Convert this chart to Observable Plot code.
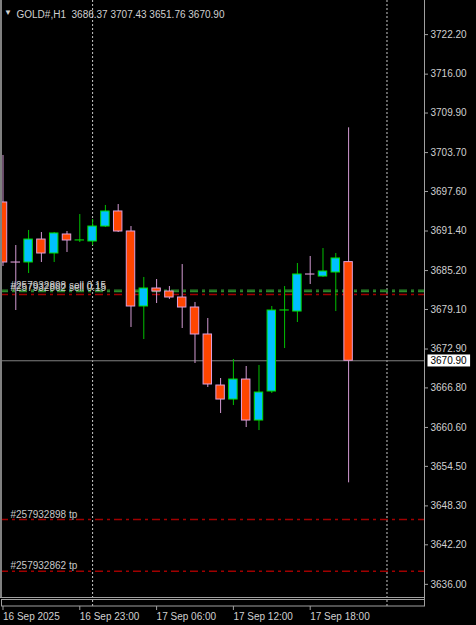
<!DOCTYPE html>
<html><head><meta charset="utf-8">
<script src="https://cdn.jsdelivr.net/npm/d3@7"></script>
<script src="https://cdn.jsdelivr.net/npm/@observablehq/plot@0.6"></script>
<style>html,body{margin:0;padding:0;background:#000;overflow:hidden}</style>
</head><body><div id="chart"></div>
<script>
// ---- data ----
const symbol = "GOLD#", timeframe = "H1";
const times = ["16 Sep 17:00","16 Sep 18:00","16 Sep 19:00","16 Sep 20:00","16 Sep 21:00","16 Sep 22:00","16 Sep 23:00",
  "17 Sep 01:00","17 Sep 02:00","17 Sep 03:00","17 Sep 04:00","17 Sep 05:00","17 Sep 06:00","17 Sep 07:00",
  "17 Sep 08:00","17 Sep 09:00","17 Sep 10:00","17 Sep 11:00","17 Sep 12:00","17 Sep 13:00","17 Sep 14:00",
  "17 Sep 15:00","17 Sep 16:00","17 Sep 17:00","17 Sep 18:00","17 Sep 19:00","17 Sep 20:00","17 Sep 21:00"];
const open  = [3695.72,3686.31,3686.31,3689.91,3687.72,3690.70,3689.76,3689.60,3691.95,3694.31,3691.17,3679.41,3682.23,3681.76,
  3680.82,3679.25,3675.02,3667.02,3664.82,3667.96,3661.53,3666.08,3678.78,3678.62,3684.43,3684.11,3684.74,3686.37];
const high  = [3703.09,3688.97,3691.33,3691.01,3691.01,3691.17,3693.83,3693.05,3695.25,3695.40,3691.95,3683.96,3683.64,3682.54,
  3685.99,3680.04,3677.53,3668.12,3671.10,3670.00,3670.16,3679.41,3682.54,3686.15,3687.25,3688.50,3687.72,3707.43];
const low   = [3685.68,3678.78,3684.58,3686.31,3686.31,3687.88,3689.44,3688.97,3691.80,3691.01,3676.12,3674.23,3679.88,3680.51,
  3675.96,3670.47,3666.71,3662.63,3663.88,3660.43,3659.96,3665.77,3672.82,3676.90,3682.86,3683.96,3678.62,3651.76];
const close = [3686.31,3686.30,3689.91,3687.72,3690.86,3689.76,3689.77,3691.95,3694.31,3691.17,3679.41,3682.23,3681.76,3680.82,
  3679.25,3675.02,3667.18,3664.82,3667.96,3661.53,3665.92,3678.78,3678.79,3684.43,3684.42,3684.90,3686.94,3670.90];

const yTicks = [3722.20,3716.00,3709.90,3703.70,3697.60,3691.40,3685.20,3679.10,3672.90,3666.80,3660.60,3654.50,3648.30,3642.20,3636.00];
const xTickBars = [0,6,12,18,24];
const xTickLabels = ["16 Sep 2025","16 Sep 23:00","17 Sep 06:00","17 Sep 12:00","17 Sep 18:00"];
const separatorBars = [7,30];

const entryLabels = ["#257932898 sell 0.15","#257932862 sell 0.15"];
const entryPrices = [3681.99, 3681.76];
const redLevel = [3681.29];
const tpLabels = ["#257932898 tp","#257932862 tp"];
const tpPrices = [3646.01, 3637.90];

// ---- styles ----
const bullFill = "#00c0ff", bullLine = "#00dd00", bullWick = "#00c000";
const bearFill = "#ff4500", bearLine = "#dda0dd", bearWick = "#d29ad2";
const textCol = "#d0d0d0";

const bars = times.map((t, i) => ({i, t, o: open[i], h: high[i], l: low[i], c: close[i], up: close[i] > open[i]}));
const entries = entryLabels.map((label, k) => ({label, price: entryPrices[k]}));
const tps = tpLabels.map((label, k) => ({label, price: tpPrices[k]}));
const last = bars[bars.length - 1];
const title = `${symbol},${timeframe}\u00a0 ${last.o.toFixed(2)} ${last.h.toFixed(2)} ${last.l.toFixed(2)} ${last.c.toFixed(2)}`;
const bidText = last.c.toFixed(2);

const W = 476, H = 625;
const chart = Plot.plot({
  width: W, height: H,
  marginLeft: 0, marginRight: 52, marginTop: 0, marginBottom: 19,
  style: {background: "#000", color: textCol, fontFamily: "'Liberation Sans', Arial, sans-serif", fontSize: "10px"},
  x: {domain: [-0.195, 32.93], label: null},
  y: {domain: [3632.37, 3727.39], label: null},
  color: {type: "identity"},
  marks: [
    Plot.ruleX(separatorBars, {x: d => d, stroke: "#c8c8c8", strokeDasharray: "2,2"}),
    Plot.ruleY([last.c], {stroke: "#808080"}),
    Plot.ruleY(redLevel, {y: d => d, stroke: "#a00000", strokeWidth: 1.3, strokeDasharray: "8,4,3,4"}),
    Plot.ruleY(entries, {y: "price", stroke: "#2a8a2a", strokeWidth: 1.3, strokeDasharray: "8,4,3,4"}),
    Plot.ruleY(tps, {y: "price", stroke: "#a00000", strokeWidth: 1.3, strokeDasharray: "8,4,3,4"}),
    Plot.ruleX(bars, {x: "i", y1: "l", y2: "h", stroke: d => d.up ? bullWick : bearWick}),
    Plot.rect(bars, {x1: d => d.i - 0.33, x2: d => d.i + 0.33, y1: "o", y2: "c",
      fill: d => d.up ? bullFill : bearFill, stroke: d => d.up ? bullLine : bearLine}),
    Plot.text(entries, {y: "price", text: "label", frameAnchor: "left", dx: 10, dy: -4, textAnchor: "start", fill: "#c8c8c8"}),
    Plot.text(tps, {y: "price", text: "label", frameAnchor: "left", dx: 10, dy: -5, textAnchor: "start", fill: "#c8c8c8"}),
    Plot.text([title], {frameAnchor: "top-left", dx: 16, dy: 10, textAnchor: "start", fill: textCol}),
    Plot.text(["\u25BC"], {frameAnchor: "top-left", dx: 7.5, dy: 9, textAnchor: "middle", fill: textCol, fontSize: 8}),
    Plot.axisY(yTicks, {anchor: "right", tickSize: 3, tickPadding: 3, tickFormat: d => d.toFixed(2), stroke: "#a0a0a0", dy: 1, label: null}),
    Plot.axisX(xTickBars, {anchor: "bottom", tickSize: 4, tickPadding: 2, textAnchor: "start",
      tickFormat: d => xTickLabels[xTickBars.indexOf(d)], stroke: "#a0a0a0", label: null}),
    Plot.text([last.c], {y: d => d, text: () => bidText, frameAnchor: "right", dx: 6, textAnchor: "start", fill: "#000"})
  ]
});
document.getElementById("chart").appendChild(chart);

// ---- window frame decoration ----
const svg = d3.select(chart);
const frame = svg.append("g").attr("fill", "none").attr("stroke", "#a0a0a0");
frame.append("line").attr("x1", 1).attr("x2", 1).attr("y1", 0).attr("y2", 598).attr("stroke", "#808080").attr("stroke-width", 2);
frame.append("line").attr("x1", 424.5).attr("x2", 424.5).attr("y1", 0).attr("y2", 606);
frame.append("line").attr("x1", 0).attr("x2", 425).attr("y1", 597.5).attr("y2", 597.5);
frame.append("rect").attr("x", 1.5).attr("y", 599.5).attr("width", 423).attr("height", 6.5);

// white box behind the bid price label
const t = Array.from(chart.querySelectorAll("text")).find(el => el.textContent === bidText && el.getAttribute("fill") !== null || (el.textContent === bidText && el.closest("g").getAttribute("fill") === "#000"));
const bidEl = t || Array.from(chart.querySelectorAll("text")).filter(el => el.textContent === bidText).pop();
if (bidEl) {
  const bb = bidEl.getBBox();
  const g = bidEl.parentNode;
  const r = document.createElementNS("http://www.w3.org/2000/svg", "rect");
  r.setAttribute("x", bb.x - 3); r.setAttribute("y", bb.y - 0.5);
  r.setAttribute("width", bb.width + 6); r.setAttribute("height", bb.height + 1);
  r.setAttribute("fill", "#fff");
  const tr = bidEl.getAttribute("transform");
  if (tr) r.setAttribute("transform", tr);
  g.insertBefore(r, bidEl);
}
</script></body></html>
